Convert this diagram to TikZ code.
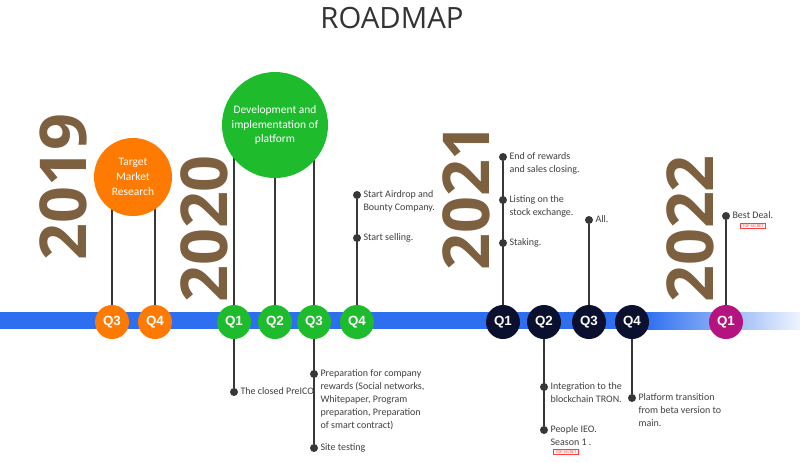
\documentclass[tikz,border=0pt]{standalone}
\usepackage{fontspec}
\setmainfont{Carlito}
\newfontfamily\qfont{Liberation Sans}
\newfontfamily\yearfont{Open Sans}
\newfontfamily\titlefont{Open Sans}
\usetikzlibrary{positioning}
\definecolor{barblue}{RGB}{45,111,240}
\definecolor{qorange}{RGB}{255,122,0}
\definecolor{qgreen}{RGB}{30,187,45}
\definecolor{qnavy}{RGB}{10,16,46}
\definecolor{qmagenta}{RGB}{181,20,128}
\definecolor{yearbrown}{RGB}{125,96,64}
\definecolor{textgrey}{RGB}{64,64,64}
\definecolor{linegrey}{RGB}{55,55,55}
\definecolor{titlegrey}{RGB}{51,51,51}
\begin{document}
\begin{tikzpicture}[x=0.75pt,y=-0.75pt,
  quarter/.style={circle,fill=#1,text=white,minimum size=25.5pt,inner sep=0,font=\qfont\bfseries\fontsize{10}{12}\selectfont},
  bigcircle/.style={circle,fill=#1,text=white,align=center,inner sep=0,font=\fontsize{8.6}{11}\selectfont},
  dot/.style={circle,fill=linegrey,minimum size=6pt,inner sep=0},
  note/.style={anchor=north west,align=left,inner sep=0,text=textgrey,font=\fontsize{7.5}{9.6}\selectfont},
  year/.style={rotate=90,text=yearbrown,inner sep=0,font=\yearfont\bfseries\fontsize{48.5}{48.5}\selectfont},
  stamp/.style={draw=red!75,text=red!75,inner xsep=1.5pt,inner ysep=0.8pt,line width=0.5pt,font=\fontsize{3.2}{3.5}\selectfont},
  link/.style={draw=linegrey,line width=0.9pt}]
  \useasboundingbox (0,0) rectangle (800,462);
  \fill[white] (0,0) rectangle (800,462);
  \node[font=\titlefont\fontsize{22}{24}\selectfont,text=titlegrey] (title) at (392,18) {ROADMAP};

  % years
  \node[year] (y2019) at (63,187) {2019};
  \node[year] (y2020) at (204,229) {2020};
  \node[year] (y2021) at (466,197) {2021};
  \node[year] (y2022) at (690,229) {2022};

  % time bar
  \fill[barblue] (0,312) rectangle (645,329);
  \shade[left color=barblue,right color=barblue!8] (645,312) rectangle (800,329);

  % quarters
  \node[quarter=qorange] (q3o) at (112,322) {Q3};
  \node[quarter=qorange] (q4o) at (155,322) {Q4};
  \node[quarter=qgreen] (q1g) at (234,322) {Q1};
  \node[quarter=qgreen] (q2g) at (275,322) {Q2};
  \node[quarter=qgreen] (q3g) at (314,322) {Q3};
  \node[quarter=qgreen] (q4g) at (357,322) {Q4};
  \node[quarter=qnavy] (q1n) at (503,322) {Q1};
  \node[quarter=qnavy] (q2n) at (544,322) {Q2};
  \node[quarter=qnavy] (q3n) at (589,322) {Q3};
  \node[quarter=qnavy] (q4n) at (632,322) {Q4};
  \node[quarter=qmagenta] (q1m) at (726,322) {Q1};

  % big circles
  \coordinate (tmrc) at (133,177);
  \coordinate (devc) at (275,125);
  \draw[link] (q3o) -- (q3o |- tmrc);
  \draw[link] (q4o) -- (q4o |- tmrc);
  \draw[link] (q1g) -- (q1g |- devc);
  \draw[link] (q2g) -- (q2g |- devc);
  \draw[link] (q3g) -- (q3g |- devc);
  \node[bigcircle=qorange,minimum size=58.5pt] (tmr) at (tmrc) {Target\\Market\\Research};
  \node[bigcircle=qgreen,minimum size=79.5pt] (dev) at (devc) {Development and\\implementation of\\platform};

  % events above
  \node[dot] (a1) at (357,195) {};
  \node[dot] (a2) at (357,238) {};
  \draw[link] (q4g) -- (a1);
  \node[note] (a1t) at ([xshift=1.5pt,yshift=3.2pt]a1.east) {Start Airdrop and\\Bounty Company.};
  \node[note] (a2t) at ([xshift=1.5pt,yshift=3.2pt]a2.east) {Start selling.};

  \node[dot] (b1) at (503,157) {};
  \node[dot] (b2) at (503,200) {};
  \node[dot] (b3) at (503,243) {};
  \draw[link] (q1n) -- (b1);
  \node[note] (b1t) at ([xshift=1.5pt,yshift=3.2pt]b1.east) {End of rewards\\and sales closing.};
  \node[note] (b2t) at ([xshift=1.5pt,yshift=3.2pt]b2.east) {Listing on the\\stock exchange.};
  \node[note] (b3t) at ([xshift=1.5pt,yshift=3.2pt]b3.east) {Staking.};

  \node[dot] (c1) at (589,220) {};
  \draw[link] (q3n) -- (c1);
  \node[note] (c1t) at ([xshift=1.5pt,yshift=3.2pt]c1.east) {All.};

  \node[dot] (m1) at (726,216) {};
  \draw[link] (q1m) -- (m1);
  \node[note] (m1t) at ([xshift=1.5pt,yshift=3.2pt]m1.east) {Best Deal.};
  \node[stamp] (st1) at (753,226) {TOP SECRET};

  % events below
  \node[dot] (g1) at (234,392) {};
  \draw[link] (q1g) -- (g1);
  \node[note] (g1t) at ([xshift=1.5pt,yshift=3.2pt]g1.east) {The closed PreICO};

  \node[dot] (h1) at (314,374) {};
  \node[dot] (h2) at (314,448) {};
  \draw[link] (q3g) -- (h2);
  \node[note] (h1t) at ([xshift=1.5pt,yshift=3.2pt]h1.east) {Preparation for company\\rewards (Social networks,\\Whitepaper, Program\\preparation, Preparation\\of smart contract)};
  \node[note] (h2t) at ([xshift=1.5pt,yshift=3.2pt]h2.east) {Site testing};

  \node[dot] (k1) at (544,387) {};
  \node[dot] (k2) at (544,430) {};
  \draw[link] (q2n) -- (k2);
  \node[note] (k1t) at ([xshift=1.5pt,yshift=3.2pt]k1.east) {Integration to the\\blockchain TRON.};
  \node[note] (k2t) at ([xshift=1.5pt,yshift=3.2pt]k2.east) {People IEO.\\Season 1 .};
  \node[stamp] (st2) at (566,452) {TOP SECRET};

  \node[dot] (n1) at (632,398) {};
  \draw[link] (q4n) -- (n1);
  \node[note] (n1t) at ([xshift=1.5pt,yshift=3.2pt]n1.east) {Platform transition\\from beta version to\\main.};
\end{tikzpicture}
\end{document}
